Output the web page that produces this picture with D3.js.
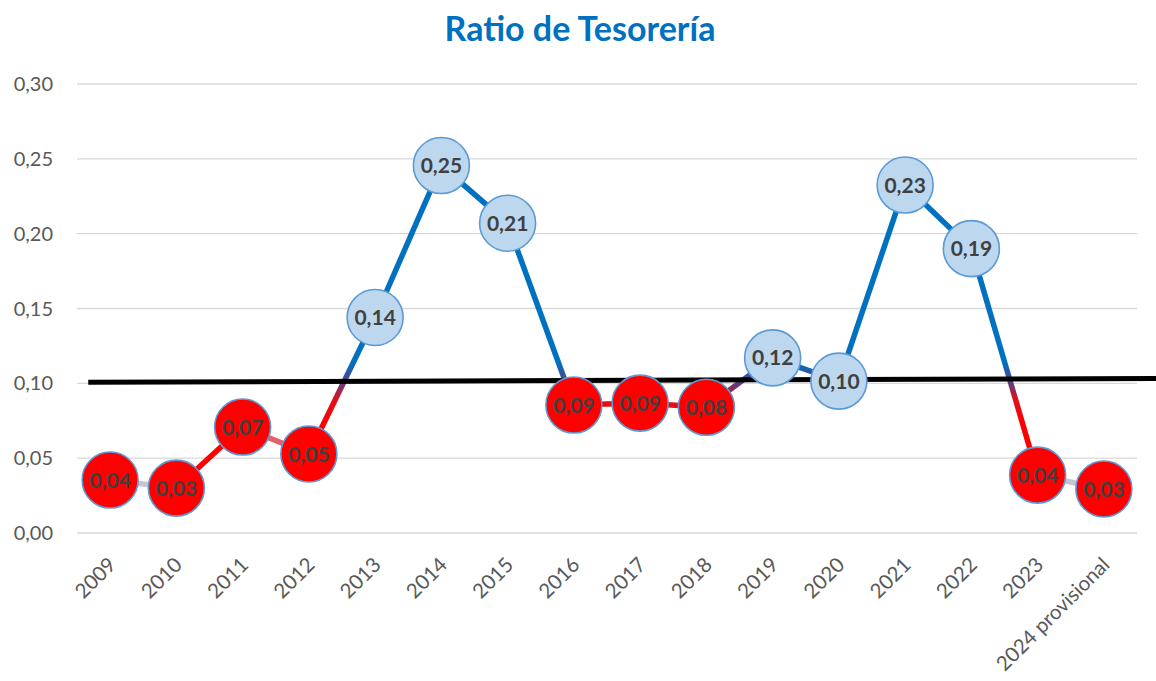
<!DOCTYPE html>
<html><head><meta charset="utf-8">
<script src="https://cdn.jsdelivr.net/npm/d3@7"></script>
<style>
html,body{margin:0;padding:0;background:#fff;}
svg{display:block;font-family:Lato,"Open Sans",sans-serif;}
</style></head>
<body><svg id="c" width="1156" height="681"></svg>
<script>
const categories = ["2009","2010","2011","2012","2013","2014","2015","2016","2017","2018","2019","2020","2021","2022","2023","2024 provisional"];
const values = [0.0354,0.030,0.0708,0.0528,0.144,0.2455,0.207,0.0855,0.0868,0.084,0.117,0.1015,0.2325,0.190,0.0387,0.0294];
const labels = ["0,04","0,03","0,07","0,05","0,14","0,25","0,21","0,09","0,09","0,08","0,12","0,10","0,23","0,19","0,04","0,03"];
const yTicks = [0,0.05,0.10,0.15,0.20,0.25,0.30];
const yTickLabels = ["0,00","0,05","0,10","0,15","0,20","0,25","0,30"];
const threshold = 0.10;
const refLineIdx = [-0.33, 15.8];
const refLineVals = [0.1007, 0.1033];
const title = "Ratio de Tesorería";

// segment colour overrides (styling only)
const segOverride = {0:"#C8C2D6", 2:"#E2616B", 14:"#C8C2D6"};

const svg = d3.select("#c");
const W = 1156, H = 681;
const m = {left:77, right:19, top:84, bottom:148};
const x = d3.scalePoint().domain(categories).range([m.left, W-m.right]).padding(0.5);
const xi = d3.scaleLinear().domain([0, categories.length-1]).range([x(categories[0]), x(categories[categories.length-1])]);
const y = d3.scaleLinear().domain([0,0.30]).range([H-m.bottom, m.top]);

svg.append("text").attr("x", W/2+2).attr("y", 41).attr("text-anchor","middle")
  .attr("fill","#0070C0").attr("font-size",34).attr("font-weight","bold").text(title);

// gridlines
svg.append("g").selectAll("line").data(yTicks).join("line")
  .attr("x1", m.left).attr("x2", W-m.right).attr("y1", d=>y(d)).attr("y2", d=>y(d))
  .attr("stroke","#D9D9D9").attr("stroke-width",1.3);

// y axis labels
svg.append("g").selectAll("text").data(yTicks).join("text")
  .attr("x", 53).attr("y", d=>y(d)).attr("dy","0.35em").attr("text-anchor","end")
  .attr("fill","#595959").attr("font-size",20).text((d,i)=>yTickLabels[i]);

// x labels
svg.append("g").selectAll("text").data(categories).join("text")
  .attr("transform", d=>`translate(${x(d)+2},${H-m.bottom+28}) rotate(-45)`)
  .attr("text-anchor","end").attr("dy","0.35em")
  .attr("fill","#595959").attr("font-size",20.5).text(d=>d);

// vertical gradient for line
const defs = svg.append("defs");
const ty = y(threshold);
const grad = defs.append("linearGradient").attr("id","lg").attr("gradientUnits","userSpaceOnUse")
  .attr("x1",0).attr("x2",0).attr("y1",ty-20).attr("y2",ty+40);
grad.append("stop").attr("offset","0").attr("stop-color","#0070C0");
grad.append("stop").attr("offset","0.33").attr("stop-color","#5B3E80");
grad.append("stop").attr("offset","0.6").attr("stop-color","#E0101A");
grad.append("stop").attr("offset","1").attr("stop-color","#FF0000");

const segs = d3.range(values.length-1).map(i=>({i, a:values[i], b:values[i+1]}));
svg.append("g").selectAll("line").data(segs).join("line")
  .attr("x1", d=>x(categories[d.i])).attr("y1", d=>y(d.a))
  .attr("x2", d=>x(categories[d.i+1])).attr("y2", d=>y(d.b))
  .attr("stroke", d=> segOverride[d.i] || "url(#lg)")
  .attr("stroke-width",5.5).attr("stroke-linecap","butt");

// threshold reference line
svg.append("line")
  .attr("x1", xi(refLineIdx[0])).attr("y1", y(refLineVals[0]))
  .attr("x2", xi(refLineIdx[1])).attr("y2", y(refLineVals[1]))
  .attr("stroke","#000").attr("stroke-width",5);

// markers
const pts = svg.append("g").selectAll("g").data(values).join("g")
  .attr("transform",(d,i)=>`translate(${x(categories[i])},${y(d)})`);
pts.append("circle").attr("r",28)
  .attr("fill", d=> d < threshold ? "#FF0000" : "#BDD7EE")
  .attr("stroke","#5B9BD5").attr("stroke-width",1.6);
pts.append("text").attr("text-anchor","middle").attr("dy","0.36em")
  .attr("fill","#404040").attr("font-size",21).attr("font-weight","bold")
  .text((d,i)=>labels[i]);
</script></body></html>
